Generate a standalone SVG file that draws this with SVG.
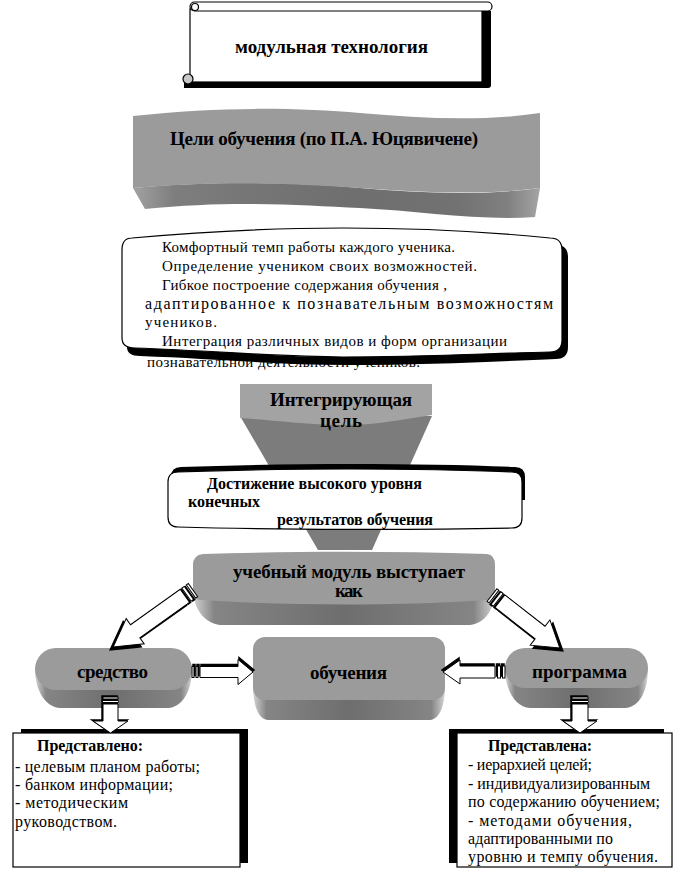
<svg xmlns="http://www.w3.org/2000/svg" xmlns:xlink="http://www.w3.org/1999/xlink" width="674" height="878" viewBox="0 0 674 878">
<style>
text{font-family:'Liberation Serif','DejaVu Serif','Times New Roman',serif;fill:#000}
.b{font-weight:bold}
.h{font-size:19px}
.m{font-size:16px}
.r{font-size:15px}
.rb{font-size:16px}
.face{fill:#9b9b9b}
.wb{fill:#fff;stroke:#000;stroke-width:1.2}
.blk{fill:#000}
.arr{fill:#fff;stroke:#000;stroke-width:1}
.arrsh{fill:#000;stroke:#000;stroke-width:1.5}
</style>
<defs>
<linearGradient id="ext" x1="0" y1="0" x2="1" y2="0">
<stop offset="0" stop-color="#d4d4d4"/><stop offset="0.07" stop-color="#858585"/><stop offset="0.5" stop-color="#6e6e6e"/><stop offset="0.93" stop-color="#858585"/><stop offset="1" stop-color="#d4d4d4"/>
</linearGradient>
<linearGradient id="wext" x1="0" y1="0" x2="1" y2="0">
<stop offset="0" stop-color="#a2a2a2"/><stop offset="0.1" stop-color="#7e7e7e"/><stop offset="0.3" stop-color="#757575"/><stop offset="0.55" stop-color="#6f6f6f"/><stop offset="0.8" stop-color="#727272"/><stop offset="0.92" stop-color="#808080"/><stop offset="1" stop-color="#a4a4a4"/>
</linearGradient>
<g id="a1" transform="translate(193,590) rotate(144.5)"><path d="M10,-8H71V-15.5L98,0L71,15.5V8H10Z"/><rect x="0" y="-8" width="2.5" height="16"/><rect x="5" y="-8" width="3" height="16"/></g>
<g id="a2" transform="translate(492,595) rotate(38)"><path d="M10,-8H61V-16L86,0L61,16V8H10Z"/><rect x="0" y="-8" width="2.5" height="16"/><rect x="5" y="-8" width="3" height="16"/></g>
<g id="a3" transform="translate(192,672)"><path d="M8,-5.5H46V-12.5L61,0L46,12.5V5.5H8Z"/><rect x="0" y="-5.5" width="2" height="11"/><rect x="4" y="-5.5" width="2" height="11"/></g>
<g id="a4" transform="translate(505,672) rotate(180)"><path d="M10,-6H45V-12L62,0L45,12V6H10Z"/><rect x="0" y="-6" width="2.5" height="12"/><rect x="4.5" y="-6" width="3" height="12"/></g>
<g id="a5" transform="translate(110.5,697) rotate(90)"><path d="M7,-7.5H24V-17.5L36,0L24,17.5V7.5H7Z"/><rect x="0" y="-7.5" width="2" height="15"/><rect x="3.5" y="-7.5" width="2" height="15"/></g>
<g id="a6" transform="translate(580,697) rotate(90)"><path d="M7,-8H24V-17L36,0L24,17V8H7Z"/><rect x="0" y="-8" width="2" height="16"/><rect x="3.5" y="-8" width="2" height="16"/></g>
</defs>

<g id="title">
<path class="blk" d="M480,11H491V85Q491,88 488,88H184V80H480Z"/>
<rect class="wb" x="190" y="9" width="292" height="73"/>
<rect class="wb" x="190" y="2" width="302" height="9" rx="4.5"/>
<circle class="wb" cx="195" cy="7" r="3.5"/>
<circle cx="188" cy="79" r="5" fill="#c8c8c8" stroke="#000" stroke-width="1.2"/>
<text class="b h" x="235" y="53" textLength="193">модульная технология</text>
</g>

<g id="goals">
<path fill="url(#wext)" d="M133,188 C220,180 300,183 360,188 S480,196 540,188 L535,217 C480,221 420,211 360,208 S230,200 145,209 Z"/>
<path class="face" d="M133,116 C220,106 300,108 360,113 S480,122 540,113 L540,188 C480,196 420,192 360,188 S220,180 133,188 Z"/>
<text class="b h" x="170" y="145" textLength="308">Цели обучения (по П.А. Юцявичене)</text>
</g>

<g id="list">
<text class="r" x="147" y="367" textLength="273">познавательной деятельности учеников.</text>
<path class="blk" d="M138,245 Q127,245 127,257 L127,347 Q127,356 140,356 C220,359 280,365 348,365 C425,365 505,361 556,359 Q568,359 568,347 L568,257 Q568,245 556,245 Z"/>
<path class="wb" d="M132,238 Q122,238 122,250 L122,338 Q122,348 135,348 C220,351 280,357 343,357 C420,357 500,353 550,352 Q562,352 562,340 L562,250 Q562,238 550,238 C480,231 410,228 343,228 C270,228 200,232 132,238 Z"/>
<text class="r" x="162" y="252" textLength="293">Комфортный темп работы каждого ученика.</text>
<text class="r" x="162" y="271" textLength="315">Определение учеником своих возможностей.</text>
<text class="r" x="162" y="290" textLength="285">Гибкое построение содержания обучения ,</text>
<text class="r" x="145" y="309" textLength="408" style="font-size:16px">адаптированное к познавательным возможностям</text>
<text class="r" x="145" y="327" textLength="72">учеников.</text>
<text class="r" x="162" y="346" textLength="345">Интеграция различных видов и форм организации</text>
</g>

<g id="integrating">
<path fill="#7c7c7c" d="M240,416 L432,416 L372,550 L318,550 Z"/>
<path fill="#a3a3a3" d="M240,384 H432 V415 C400,420 370,426 336,425 C300,424 270,420 240,418 Z"/>
<text class="b h" x="270" y="406" textLength="142">Интегрирующая</text>
<text class="b h" x="320" y="427" textLength="42">цель</text>
</g>

<g id="achievement">
<path class="blk" d="M181,467 C283,463 423,463 515,467 Q525,467 525,477 L525,500 L171,500 L171,477 Q171,467 181,467 Z"/>
<path class="wb" d="M178,472 C280,468 420,468 512,472 Q522,472 522,482 L522,518 Q522,528 512,528 C420,530 280,530 178,527 Q168,527 168,517 L168,482 Q168,472 178,472 Z"/>
<text class="b m" x="207" y="489" textLength="215">Достижение высокого уровня</text>
<text class="b m" x="188" y="507" textLength="72">конечных</text>
<text class="b m" x="277" y="525" textLength="156">результатов обучения</text>
</g>

<g id="module">
<path fill="url(#ext)" d="M193,588 C193,610 205,623 220,625 L470,625 C485,623 495,610 495,588 Z"/>
<path class="face" d="M203,554 C300,551 390,551 487,554 Q495,555 495,565 L495,596 Q495,600 487,600 C400,606 290,606 201,600 Q193,600 193,592 L193,565 Q193,555 203,554 Z"/>
<text class="b h" x="233" y="578" textLength="232">учебный модуль выступает</text>
<text class="b h" x="335" y="597" textLength="28">как</text>
</g>

<g id="means">
<path fill="url(#ext)" d="M35,669 C35,690 45,707 60,708 L168,708 C183,707 192,690 192,669 Z"/>
<rect class="face" x="35" y="648" width="157" height="42" rx="21"/>
<text class="b h" x="77" y="678" textLength="71">средство</text>
</g>

<g id="learning">
<path fill="url(#ext)" d="M253,685 C253,705 258,719 268,720 L430,720 C440,719 445,705 445,685 Z"/>
<rect class="face" x="253" y="637" width="192" height="63" rx="12"/>
<text class="b h" x="310" y="679" textLength="77">обучения</text>
</g>

<g id="program">
<path fill="url(#ext)" d="M505,668 C505,690 515,707 530,708 L625,708 C640,707 648,690 648,668 Z"/>
<rect class="face" x="505" y="648" width="143" height="40" rx="20"/>
<text class="b h" x="532" y="678" textLength="95">программа</text>
</g>

<g id="means-box">
<rect class="blk" x="21" y="729" width="227" height="134"/>
<rect class="wb" x="13" y="733" width="227" height="134"/>
<text class="b rb" x="37" y="751" textLength="106">Представлено:</text>
<text class="rb" x="15" y="772" textLength="185">- целевым планом работы;</text>
<text class="rb" x="15" y="790" textLength="158">- банком информации;</text>
<text class="rb" x="15" y="808" textLength="113">- методическим</text>
<text class="rb" x="15" y="827" textLength="102">руководством.</text>
</g>

<g id="program-box">
<rect class="blk" x="449" y="729" width="215" height="134"/>
<rect class="wb" x="457" y="733" width="215" height="134"/>
<text class="b rb" x="488" y="751" textLength="104">Представлена:</text>
<text class="rb" x="468" y="770" textLength="124">- иерархией целей;</text>
<text class="rb" x="468" y="789" textLength="182">- индивидуализированным</text>
<text class="rb" x="468" y="807" textLength="192">по содержанию обучением;</text>
<text class="rb" x="468" y="826" textLength="164">- методами обучения,</text>
<text class="rb" x="468" y="844" textLength="145">адаптированными по</text>
<text class="rb" x="468" y="862" textLength="190">уровню и темпу  обучения.</text>
</g>

<g id="connectors">
<use xlink:href="#a1" class="arrsh" transform="translate(-3,3)"/>
<use xlink:href="#a1" class="arr"/>
<use xlink:href="#a2" class="arrsh" transform="translate(3,3)"/>
<use xlink:href="#a2" class="arr"/>
<use xlink:href="#a3" class="arrsh" transform="translate(1,-2)"/>
<use xlink:href="#a3" class="arr"/>
<use xlink:href="#a4" class="arrsh" transform="translate(-1,-2)"/>
<use xlink:href="#a4" class="arr"/>
<use xlink:href="#a5" class="arrsh" transform="translate(-1,-1)"/>
<use xlink:href="#a5" class="arr"/>
<use xlink:href="#a6" class="arrsh" transform="translate(-1,-1)"/>
<use xlink:href="#a6" class="arr"/>
</g>
</svg>
